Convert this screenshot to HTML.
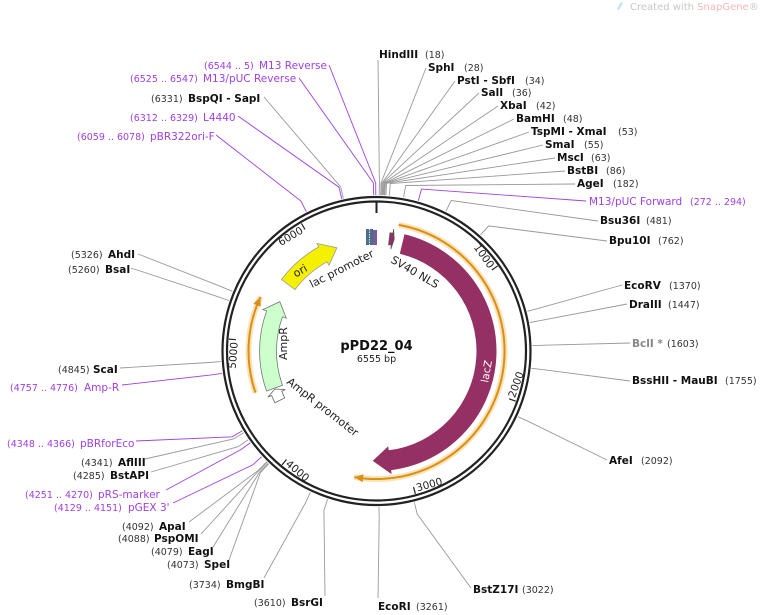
<!DOCTYPE html>
<html><head><meta charset="utf-8">
<style>
html,body{margin:0;padding:0;background:#fff;}
svg{display:block;font-family:"DejaVu Sans","Liberation Sans",sans-serif;}
.n{font-weight:bold;font-size:10.5px;fill:#111;}
.p{font-size:9.5px;fill:#333;}
.f{font-size:10.5px;fill:#a040e0;}
</style></head>
<body>
<svg id="s" width="760" height="615" viewBox="0 0 760 615" xmlns="http://www.w3.org/2000/svg">
<g id="lines" fill="none" stroke-width="0.9"></g>
<g id="feat"></g>
<circle cx="376.5" cy="351" r="154" fill="none" stroke="#222" stroke-width="2.2"/>
<circle cx="376.5" cy="351" r="149.5" fill="none" stroke="#222" stroke-width="2.2"/>
<g id="ticks"></g>

<text x="630" y="10" font-size="10" fill="#c8c8c8">Created with <tspan fill="#f4b8b8">SnapGene</tspan>®</text>
<path d="M617 9 l4 -7 l2 1 l-4 7z" fill="#bfe3f5"/>

<text x="376.5" y="350" text-anchor="middle" font-weight="bold" font-size="13" fill="#111">pPD22_04</text>
<text x="376.5" y="362" text-anchor="middle" font-size="9.5" fill="#222">6555 bp</text>

<!-- right/top labels -->
<text x="379" y="58" class="n">HindIII</text><text x="425" y="58" class="p">(18)</text>
<text x="428" y="71" class="n">SphI</text><text x="464" y="71" class="p">(28)</text>
<text x="457" y="84" class="n">PstI  - SbfI</text><text x="525" y="84" class="p">(34)</text>
<text x="481" y="96" class="n">SalI</text><text x="512" y="96" class="p">(36)</text>
<text x="500" y="109" class="n">XbaI</text><text x="536" y="109" class="p">(42)</text>
<text x="516" y="122" class="n">BamHI</text><text x="563" y="122" class="p">(48)</text>
<text x="531" y="135" class="n">TspMI  - XmaI</text><text x="618" y="135" class="p">(53)</text>
<text x="545" y="148" class="n">SmaI</text><text x="584" y="148" class="p">(55)</text>
<text x="557" y="161" class="n">MscI</text><text x="591" y="161" class="p">(63)</text>
<text x="567" y="174" class="n">BstBI</text><text x="606" y="174" class="p">(86)</text>
<text x="577" y="187" class="n">AgeI</text><text x="613" y="187" class="p">(182)</text>
<text x="589" y="205" class="f">M13/pUC Forward</text><text x="690" y="205" class="f" style="font-size:9.5px">(272 .. 294)</text>
<text x="600" y="224" class="n">Bsu36I</text><text x="646" y="224" class="p">(481)</text>
<text x="609" y="244" class="n">Bpu10I</text><text x="658" y="244" class="p">(762)</text>
<text x="624" y="289" class="n">EcoRV</text><text x="669" y="289" class="p">(1370)</text>
<text x="629" y="308" class="n">DraIII</text><text x="668" y="308" class="p">(1447)</text>
<text x="632" y="347" class="n" style="fill:#888">BclI *</text><text x="667" y="347" class="p">(1603)</text>
<text x="632" y="384" class="n">BssHII  - MauBI</text><text x="725" y="384" class="p">(1755)</text>
<text x="609" y="464" class="n">AfeI</text><text x="641" y="464" class="p">(2092)</text>
<text x="473" y="593" class="n">BstZ17I</text><text x="522" y="593" class="p">(3022)</text>
<text x="378" y="610" class="n">EcoRI</text><text x="416" y="610" class="p">(3261)</text>

<!-- left labels -->
<text x="254" y="606" class="p">(3610)</text><text x="291" y="606" class="n">BsrGI</text>
<text x="189" y="588" class="p">(3734)</text><text x="226" y="588" class="n">BmgBI</text>
<text x="167" y="568" class="p">(4073)</text><text x="204" y="568" class="n">SpeI</text>
<text x="151" y="555" class="p">(4079)</text><text x="188" y="555" class="n">EagI</text>
<text x="118" y="542" class="p">(4088)</text><text x="154" y="542" class="n">PspOMI</text>
<text x="122" y="530" class="p">(4092)</text><text x="159" y="530" class="n">ApaI</text>
<text x="54" y="511" class="f" style="font-size:9.5px">(4129 .. 4151)</text><text x="128" y="511" class="f">pGEX 3'</text>
<text x="25" y="498" class="f" style="font-size:9.5px">(4251 .. 4270)</text><text x="98" y="498" class="f">pRS-marker</text>
<text x="73" y="479" class="p">(4285)</text><text x="110" y="479" class="n">BstAPI</text>
<text x="81" y="466" class="p">(4341)</text><text x="118" y="466" class="n">AflIII</text>
<text x="7" y="447" class="f" style="font-size:9.5px">(4348 .. 4366)</text><text x="80" y="447" class="f">pBRforEco</text>
<text x="10" y="391" class="f" style="font-size:9.5px">(4757 .. 4776)</text><text x="84" y="391" class="f">Amp-R</text>
<text x="58" y="373" class="p">(4845)</text><text x="93" y="373" class="n">ScaI</text>
<text x="68" y="273" class="p">(5260)</text><text x="105" y="273" class="n">BsaI</text>
<text x="71" y="258" class="p">(5326)</text><text x="108" y="258" class="n">AhdI</text>
<text x="77" y="140" class="f" style="font-size:9.5px">(6059 .. 6078)</text><text x="150" y="140" class="f">pBR322ori-F</text>
<text x="130" y="121" class="f" style="font-size:9.5px">(6312 .. 6329)</text><text x="203" y="121" class="f">L4440</text>
<text x="151" y="102" class="p">(6331)</text><text x="188" y="102" class="n">BspQI  - SapI</text>
<text x="130" y="82" class="f" style="font-size:9.5px">(6525 .. 6547)</text><text x="203" y="82" class="f">M13/pUC Reverse</text>
<text x="204" y="69" class="f" style="font-size:9.5px">(6544 .. 5)</text><text x="259" y="69" class="f">M13 Reverse</text>

<!-- feature labels -->
<text transform="translate(490,372) rotate(-80)" font-size="10.5" fill="#fff" text-anchor="middle">lacZ</text>
<text transform="translate(390,262) rotate(30)" font-size="11" fill="#222">SV40 NLS</text>
<text transform="translate(312,288) rotate(-27)" font-size="11" fill="#222">lac promoter</text>
<text transform="translate(302,274) rotate(-30)" font-size="11" fill="#222" text-anchor="middle">ori</text>
<text transform="translate(287,360) rotate(-90)" font-size="11" fill="#222">AmpR</text>
<text transform="translate(286,383) rotate(38)" font-size="11" fill="#222">AmpR promoter</text>
</svg>
<script>
var cx=376.5,cy=351,NS="http://www.w3.org/2000/svg";
function P(r,a){a=a*Math.PI/180;return [cx+r*Math.sin(a),cy-r*Math.cos(a)];}
function pt(p){return p[0].toFixed(1)+","+p[1].toFixed(1);}
function el(g,t,at){var e=document.createElementNS(NS,t);for(var k in at)e.setAttribute(k,at[k]);document.getElementById(g).appendChild(e);return e;}
var G="#999",V="#a040e0";
var L=[[18,378,60,G],[28,426,68,G],[34,455,81,G],[36,479,93,G],[42,498,106,G],[48,514,119,G],[53,529,132,G],[55,543,145,G],[63,555,158,G],[86,565,171,G],[182,575,184,G],
[283,586,201,V],[481,598,221,G],[762,607,241,G],[1370,622,285,G],[1447,627,304,G],[1603,630,343,G],[1755,630,381,G],[2092,607,460,G],[3022,471,588,G],[3261,378,598,G],
[3610,325,596,G],[3734,264,578,G],[4073,229,560,G],[4079,213,547,G],[4088,201,534,G],[4092,189,522,G],[4140,173,503,V],[4260,166,490,V],[4285,151,472,G],[4341,145,459,G],[4357,136,441,V],[4766,122,385,V],[4845,120,368,G],[5260,131,268,G],[5326,138,254,G],
[6068,216,135,V],[6320,238,116,V],[6331,264,97,G],[6536,299,78,V],[6550,329,65,V]];
L.forEach(function(l){var a=l[0]/6555*360;var p1=P(168,a),p2=P(156,a);
el("lines","polyline",{points:l[1]+","+l[2]+" "+pt(p1)+" "+pt(p2),stroke:l[3]});});
function arr(r1,r2,a1,a2,h,fill,stroke){var rm=(r1+r2)/2,w=(r2-r1)/2+4,dir=a2>a1?1:-1,ab=a2-dir*h;
var s=dir>0?1:0,big=Math.abs(ab-a1)>180?1:0;
var d="M"+pt(P(r2,a1))+" A"+r2+","+r2+" 0 "+big+" "+s+" "+pt(P(r2,ab))+" L"+pt(P(rm+w,ab))+" L"+pt(P(rm,a2))+" L"+pt(P(rm-w,ab))+" L"+pt(P(r1,ab))+" A"+r1+","+r1+" 0 "+big+" "+(1-s)+" "+pt(P(r1,a1))+"Z";
el("feat","path",{d:d,fill:fill,stroke:stroke||"none","stroke-width":0.8});}
function oarc(r,a1,a2){var dir=a2>a1?1:-1,big=Math.abs(a2-a1)>180?1:0;
var d="M"+pt(P(r,a1))+" A"+r+","+r+" 0 "+big+" "+(dir>0?1:0)+" "+pt(P(r,a2));
el("feat","path",{d:d,fill:"none",stroke:"#fbe3b8","stroke-width":6});
el("feat","path",{d:d,fill:"none",stroke:"#d89018","stroke-width":2});
var t=P(r,a2),b1=P(r+4,a2-dir*4),b2=P(r-4,a2-dir*4);
el("feat","path",{d:"M"+pt(t)+" L"+pt(b1)+" L"+pt(b2)+"Z",fill:"#d89018"});}
oarc(128,10,190);oarc(128,251,295);
arr(100,120,13.5,182,9,"#943063");
arr(102,119,307,339,8,"#f5f000","#999");
arr(100,117,250,297,7,"#ccffcc","#777");
arr(103,114,243,249.5,2.5,"#fff","#666");
arr(107,119,6.5,9,1,"#943063","#555");
el("feat","rect",{x:366,y:229,width:7,height:16,fill:"#4c6e86"});
el("feat","rect",{x:373,y:230,width:4,height:15,fill:"#7a5aa0"});
el("feat","line",{x1:369.5,y1:229,x2:369.5,y2:245,stroke:"#fff","stroke-width":0.8,"stroke-dasharray":"1.5,1"});
var tp=P(149,0),tq=P(138,0);el("ticks","line",{x1:tp[0],y1:tp[1],x2:tq[0],y2:tq[1],stroke:"#222","stroke-width":2});
[1000,2000,3000,4000,5000,6000].forEach(function(v){var a=v/6555*360,p=P(148,a),q=P(141,a);
el("ticks","line",{x1:p[0],y1:p[1],x2:q[0],y2:q[1],stroke:"#222","stroke-width":1.2});
var flip=a>90&&a<270,rot=flip?a-180:(a>180?a-360:a),tpn=P(139,a-1);
var t=el("ticks","text",{transform:"translate("+pt(tpn)+") rotate("+rot.toFixed(1)+")","font-size":"10.5",fill:"#222","text-anchor":flip?"start":"end","dominant-baseline":flip?"hanging":"auto"});
t.textContent=String(v);});
</script>
</body></html>
